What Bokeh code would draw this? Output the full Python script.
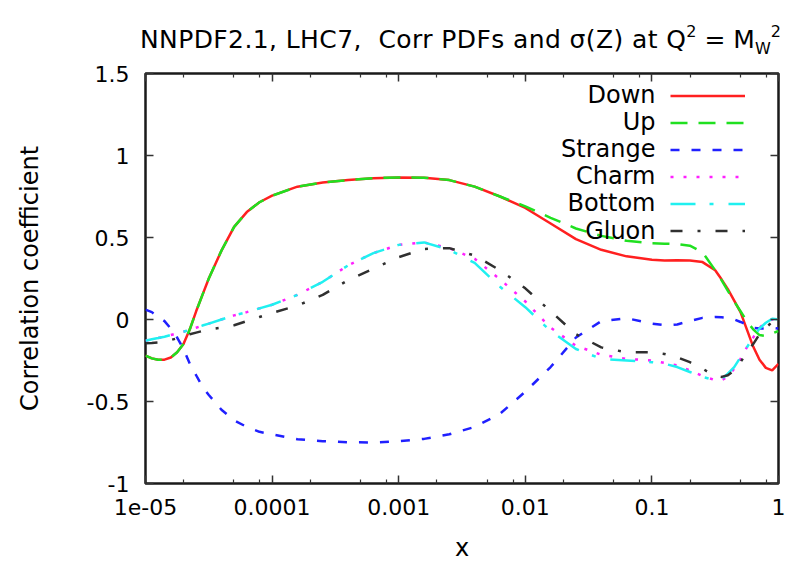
from bokeh.plotting import figure
from bokeh.layouts import column
from bokeh.models import (LogAxis, LinearAxis, FixedTicker, Label, Legend, LegendItem,
                          Range1d, CustomJSTickFormatter, Div)
from bokeh.embed import file_html
from bokeh.resources import INLINE

# ---------------- data ----------------
x = [1.0e-5, 1.122e-5, 1.259e-5, 1.413e-5, 1.585e-5, 1.778e-5, 1.995e-5, 2.239e-5,
     2.512e-5, 2.818e-5, 3.162e-5, 3.981e-5, 5.012e-5, 6.310e-5, 7.943e-5, 1.0e-4,
     1.585e-4, 2.512e-4, 3.981e-4, 6.310e-4, 1.0e-3, 1.585e-3, 2.512e-3, 3.981e-3,
     6.310e-3, 1.0e-2, 1.585e-2, 2.512e-2, 3.981e-2, 6.310e-2, 0.1, 0.1259, 0.1585,
     0.1995, 0.2512, 0.3162, 0.3548, 0.3981, 0.4467, 0.5012, 0.5623, 0.6310, 0.7079,
     0.7943, 0.8913, 1.0]

down = [-0.22, -0.237, -0.245, -0.245, -0.232, -0.2, -0.15, -0.06, 0.05, 0.15, 0.25,
        0.42, 0.565, 0.655, 0.715, 0.755, 0.81, 0.835, 0.85, 0.862, 0.866, 0.865, 0.85,
        0.81, 0.75, 0.68, 0.585, 0.49, 0.425, 0.385, 0.365, 0.36, 0.362, 0.36, 0.35,
        0.30, 0.245, 0.185, 0.115, 0.045, -0.06, -0.165, -0.245, -0.295, -0.31, -0.27]

up = [-0.22, -0.237, -0.245, -0.245, -0.232, -0.2, -0.15, -0.06, 0.05, 0.15, 0.25,
      0.42, 0.565, 0.655, 0.715, 0.755, 0.81, 0.835, 0.85, 0.862, 0.866, 0.865, 0.85,
      0.81, 0.75, 0.69, 0.62, 0.555, 0.51, 0.48, 0.465, 0.462, 0.46, 0.45, 0.41,
      0.30, 0.24, 0.175, 0.11, 0.05, -0.01, -0.06, -0.095, -0.10, -0.085, -0.07]

strange = [0.06, 0.045, 0.015, -0.01, -0.055, -0.11, -0.18, -0.27, -0.34, -0.41, -0.46,
           -0.55, -0.615, -0.655, -0.685, -0.70, -0.73, -0.742, -0.748, -0.75, -0.742,
           -0.728, -0.70, -0.655, -0.575, -0.44, -0.29, -0.11, -0.01, 0.008, -0.025,
           -0.035, -0.03, -0.01, 0.01, 0.015, 0.013, 0.01, 0.0, -0.015, -0.03, -0.05,
           -0.055, -0.055, -0.05, -0.055]

charm = [-0.13, -0.12, -0.113, -0.105, -0.095, -0.085, -0.075, -0.063, -0.05, -0.037,
         -0.025, 0.0, 0.025, 0.045, 0.068, 0.09, 0.15, 0.23, 0.33, 0.405, 0.455, 0.47,
         0.435, 0.37, 0.245, 0.11, -0.05, -0.16, -0.215, -0.24, -0.25, -0.265, -0.28,
         -0.31, -0.345, -0.37, -0.37, -0.35, -0.30, -0.24, -0.17, -0.11, -0.05, -0.015,
         0.0, 0.0]

bottom = [-0.13, -0.12, -0.113, -0.105, -0.095, -0.085, -0.075, -0.063, -0.05, -0.037,
          -0.025, 0.0, 0.025, 0.045, 0.068, 0.09, 0.15, 0.23, 0.33, 0.405, 0.455, 0.47,
          0.425, 0.345, 0.20, 0.075, -0.07, -0.18, -0.24, -0.25, -0.26, -0.27, -0.29,
          -0.32, -0.35, -0.37, -0.365, -0.33, -0.29, -0.23, -0.17, -0.11, -0.055, -0.02,
          0.005, 0.0]

gluon = [-0.145, -0.143, -0.14, -0.135, -0.125, -0.115, -0.105, -0.09, -0.08, -0.07,
         -0.06, -0.05, -0.035, -0.01, 0.015, 0.04, 0.085, 0.15, 0.24, 0.31, 0.38, 0.43,
         0.435, 0.39, 0.30, 0.19, 0.05, -0.09, -0.17, -0.20, -0.20, -0.21, -0.23, -0.26,
         -0.30, -0.345, -0.35, -0.34, -0.31, -0.26, -0.20, -0.15, -0.09, -0.05, -0.015,
         0.0]

series_names = ["Down", "Up", "Strange", "Charm", "Bottom", "Gluon"]

x_ticks = [1e-5, 1e-4, 1e-3, 1e-2, 1e-1, 1.0]
x_tick_labels = ["1e-05", "0.0001", "0.001", "0.01", "0.1", "1"]
x_minor_ticks = [m * 10.0 ** k for k in range(-5, 0) for m in (2, 5, 8)]
y_ticks = [-1.0, -0.5, 0.0, 0.5, 1.0, 1.5]
y_tick_labels = ["-1", "-0.5", "0", "0.5", "1", "1.5"]

title_main = "NNPDF2.1, LHC7,&nbsp; Corr PDFs and σ(Z) at Q"
x_label = "x"
y_label = "Correlation coefficient"

# ---------------- styling ----------------
FONT = "DejaVu Sans"
TITLE_H = 60
styles = [
    dict(line_color="#ff2020", line_dash="solid"),
    dict(line_color="#20e020", line_dash="17 11"),
    dict(line_color="#2020ff", line_dash="9 12"),
    dict(line_color="#ff20ff", line_dash="3 10"),
    dict(line_color="#20f0f0", line_dash="25 14 4 15"),
    dict(line_color="#303030", line_dash="12 15 3 15"),
]

p = figure(width=787, height=564 - TITLE_H, x_axis_type="log",
           x_range=Range1d(1e-5, 1.0), y_range=Range1d(-1.0, 1.5),
           output_backend="svg", toolbar_location=None, title=None,
           min_border_left=145, min_border_right=9, min_border_top=73 - TITLE_H,
           min_border_bottom=81)
p.grid.visible = False
p.outline_line_color = "#1a1a1a"
p.outline_line_width = 2.5
p.background_fill_color = "white"
p.border_fill_color = "white"


def style_axis(ax, labels=True):
    ax.axis_line_color = None
    ax.major_tick_in = 8
    ax.major_tick_out = 0
    ax.minor_tick_in = 4
    ax.minor_tick_out = 0
    ax.major_tick_line_color = "#333333"
    ax.minor_tick_line_color = "#333333"
    ax.major_tick_line_width = 1.5
    ax.minor_tick_line_width = 1.2
    ax.major_label_text_font = FONT
    ax.major_label_text_font_size = "22px"
    ax.major_label_text_color = "black"
    ax.axis_label_text_font = FONT
    ax.axis_label_text_font_style = "normal"
    ax.axis_label_text_font_size = "24px"
    ax.axis_label_text_color = "black"
    if not labels:
        ax.major_label_text_font_size = "0px"
        ax.major_label_standoff = 0
        ax.formatter = CustomJSTickFormatter(code="return ''")


xa = p.xaxis[0]
xa.ticker = FixedTicker(ticks=x_ticks, minor_ticks=x_minor_ticks)
xa.formatter = CustomJSTickFormatter(args=dict(labels=x_tick_labels), code="return labels[index]")
style_axis(xa)
xa.major_label_standoff = 15
xa.axis_label = x_label
xa.axis_label_standoff = 16

ya = p.yaxis[0]
ya.ticker = FixedTicker(ticks=y_ticks, minor_ticks=[])
ya.formatter = CustomJSTickFormatter(args=dict(labels=y_tick_labels), code="return labels[index]")
style_axis(ya)
ya.major_label_standoff = 16
ya.axis_label = y_label
ya.axis_label_standoff = 40

top = LogAxis(ticker=FixedTicker(ticks=x_ticks, minor_ticks=x_minor_ticks))
style_axis(top, labels=False)
p.add_layout(top, "above")
right = LinearAxis(ticker=FixedTicker(ticks=y_ticks, minor_ticks=[]))
style_axis(right, labels=False)
p.add_layout(right, "right")

renderers = []
for ys, st in zip([down, up, strange, charm, bottom, gluon], styles):
    r = p.line(x, ys, line_width=2.5, **st)
    renderers.append(r)

legend = Legend(items=[LegendItem(label="", renderers=[r]) for r in renderers],
                location=(525, 239), orientation="vertical",
                glyph_width=75, glyph_height=27, label_height=27, label_width=0,
                label_standoff=0, spacing=0, padding=0, margin=0,
                border_line_color=None, background_fill_alpha=0,
                label_text_font_size="1px")
p.add_layout(legend)

# legend texts (right aligned, to the left of the line samples)
for i, name in enumerate(series_names):
    p.add_layout(Label(x=510, y=389 - i * 27.2, x_units="screen", y_units="screen",
                       text=name, text_align="right", text_baseline="middle",
                       text_font=FONT, text_font_size="24px", text_color="black"))

# title with super/subscripts as HTML text
sup = '<span style="font-size:16px;position:relative;top:-11px;">2</span>'
sub = '<span style="font-size:16px;position:relative;top:6px;">W</span>'
title_html = (
    '<div style="font-family:\'DejaVu Sans\';font-size:25px;line-height:25px;color:black;'
    'white-space:nowrap;margin-left:140px;margin-top:27px;">'
    f'<span style="letter-spacing:0.4px;">{title_main}</span>{sup} = M{sub}{sup}</div>'
)
title_div = Div(text=title_html, width=787, height=TITLE_H, margin=0)

page = column(title_div, p, spacing=0)
open("out.html", "w").write(file_html(page, INLINE))
